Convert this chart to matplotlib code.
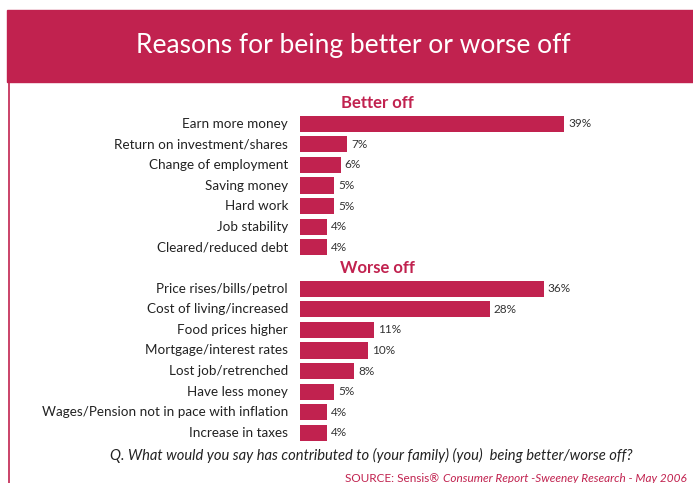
import matplotlib
matplotlib.use("Agg")
import matplotlib.pyplot as plt
from matplotlib.patches import Rectangle
from matplotlib.lines import Line2D

CRIMSON = "#C1224F"

better_labels = ["Earn more money", "Return on investment/shares", "Change of employment",
                 "Saving money", "Hard work", "Job stability", "Cleared/reduced debt"]
better_vals = [39, 7, 6, 5, 5, 4, 4]
worse_labels = ["Price rises/bills/petrol", "Cost of living/increased", "Food prices higher",
                "Mortgage/interest rates", "Lost job/retrenched", "Have less money",
                "Wages/Pension not in pace with inflation", "Increase in taxes"]
worse_vals = [36, 28, 11, 10, 8, 5, 4, 4]

W, H = 693, 483
fig = plt.figure(figsize=(W / 100, H / 100), dpi=100)
FONT = "Lato"

# header band and left border
fig.patches.append(Rectangle((7 / W, 1 - 82 / H), 1, 72 / H, transform=fig.transFigure,
                             color=CRIMSON, zorder=0))
fig.lines.append(Line2D([8.5 / W, 8.5 / W], [0, 1 - 82 / H], transform=fig.transFigure,
                        color=CRIMSON, lw=1.2))
fig.text(353 / W, 1 - 46 / H, "Reasons for being better or worse off", color="white",
         fontsize=19, family=FONT, ha="center", va="center")

# axes: row 0 at y=103px, row 16 at y=433px; x=0 at 300px, 6.77 px per %
PX = 6.77
row_px = (433 - 103) / 16
y_top = 103 - row_px / 2
y_bot = 433 + row_px / 2
x0, xmax_px = 300, 693
ax = fig.add_axes([x0 / W, 1 - y_bot / H, (xmax_px - x0) / W, (y_bot - y_top) / H])
ax.set_xlim(0, (xmax_px - x0) / PX)
ax.set_ylim(16.5, -0.5)
ax.axis("off")

rows = [("Better off", None)] + list(zip(better_labels, better_vals)) \
    + [("Worse off", None)] + list(zip(worse_labels, worse_vals))

for i, (lab, v) in enumerate(rows):
    if v is None:
        ax.text(77 / PX, i, lab, color=CRIMSON, fontsize=12, fontweight="bold",
                family=FONT, ha="center", va="center")
        continue
    ax.barh(i, v, height=0.78, color=CRIMSON)
    ax.text(-12 / PX, i, lab, color="#222222", fontsize=9.7, family=FONT,
            ha="right", va="center")
    ax.text(v + 0.6, i, f"{v}%", color="#333333", fontsize=8.5, family=FONT,
            ha="left", va="center")

fig.text(371 / W, 1 - 455 / H,
         "Q. What would you say has contributed to (your family) (you)  being better/worse off?",
         fontsize=10.6, style="italic", family=FONT, color="#222222", ha="center", va="center")

src1 = fig.text(345 / W, 1 - 479 / H, "SOURCE: Sensis\u00ae", fontsize=8.5, family=FONT,
                color=CRIMSON, ha="left", va="center")
fig.canvas.draw()
bb = src1.get_window_extent()
fig.text((bb.x1 + 4) / W, 1 - 479 / H, "Consumer Report -Sweeney Research - May 2006",
         fontsize=8.5, family=FONT, style="italic", color=CRIMSON, ha="left", va="center")

fig.savefig("out.png", dpi=100)
